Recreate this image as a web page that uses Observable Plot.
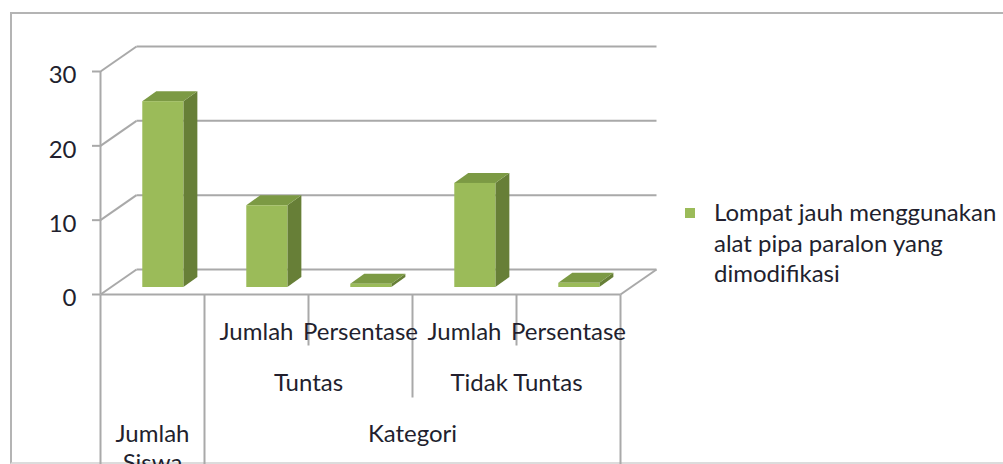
<!DOCTYPE html>
<html><head><meta charset="utf-8">
<script src="https://cdn.jsdelivr.net/npm/d3@7"></script>
<script src="https://cdn.jsdelivr.net/npm/@observablehq/plot@0.6"></script>
<style>
body{margin:0;background:#fff;font-family:Lato,sans-serif;}
#wrap{position:relative;width:1003px;height:464px;overflow:hidden;}
#border{position:absolute;left:10px;top:12px;width:1100px;height:448px;border:2px solid #b4b4b4;border-bottom-color:#dcdcdc;}
#chart{position:absolute;left:0;top:0;}
#legend{position:absolute;left:685px;top:197px;font-size:24px;line-height:30.5px;color:#221f2e;width:320px;}
#legend .sw{position:absolute;left:0;top:11px;width:10px;height:10px;background:#9BBB59;}
#legend .tx{position:absolute;left:29px;top:0;width:290px;}
</style></head><body>
<div id="wrap"><div id="border"></div><div id="chart"></div><div id="legend"></div></div>
<script>
// ---- data ----
const categories = ["Jumlah Siswa", "Tuntas Jumlah", "Tuntas Persentase", "Tidak Tuntas Jumlah", "Tidak Tuntas Persentase"];
const values = [25, 11, 0.44, 14, 0.56];
const seriesName = "Lompat jauh menggunakan alat pipa paralon yang dimodifikasi";
const yTicks = [0, 10, 20, 30];
const level1Labels = ["", "Jumlah", "Persentase", "Jumlah", "Persentase"];
const level2Labels = ["Tuntas", "Tidak Tuntas"];
const level2Spans = [[1, 3], [3, 5]];
const level3Labels = ["Jumlah\nSiswa", "Kategori"];
const level3Spans = [[0, 1], [1, 5]];
const separatorLevels = [3, 3, 1, 2, 1, 3];

// ---- layout ----
const W = 1003, H = 464;
const X0 = 100, X1 = 620, Y0 = 294, Y1 = 71;
const n = categories.length;
const kx = (X1 - X0) / n, ky = (Y0 - Y1) / 30;
const ux = p => p / kx, uy = p => p / ky;
const wall = {dx: ux(36), dy: uy(25)};
const mid = {dx: ux(9), dy: uy(7)};
const bd = {dx: ux(14), dy: uy(10)};
const barL = 0.32, barR = 0.715;
const rowDepth = {1: 51, 2: 103, 3: 190};
const grid = "#a9a9a9";
const cFront = "#9BBB59", cSide = "#677F37", cTop = "#7C9A44";

const bars = values.map((v, i) => ({i, v, x1: i + barL + mid.dx, x2: i + barR + mid.dx, y0: mid.dy, y1: v + mid.dy}));
const sidePts = bars.flatMap(b => [
  {i: b.i, x: b.x2, y1: b.y0, y2: b.y1},
  {i: b.i, x: b.x2 + bd.dx, y1: b.y0 + bd.dy, y2: b.y1 + bd.dy}
]);
const topPts = bars.flatMap(b => [
  {i: b.i, y: b.y1, x1: b.x1, x2: b.x2},
  {i: b.i, y: b.y1 + bd.dy, x1: b.x1 + bd.dx, x2: b.x2 + bd.dx}
]);
const seps = separatorLevels.map((lv, i) => ({x: i, lv}));
const txt = {fill: "#221f2e", fontSize: 24};

const chart = Plot.plot({
  width: W, height: H,
  marginLeft: X0, marginRight: W - X1, marginTop: Y1, marginBottom: H - Y0,
  x: {domain: [0, n], axis: null},
  y: {domain: [0, 30], axis: null},
  style: {fontFamily: "Lato, sans-serif", fontSize: "24px", background: "transparent", overflow: "visible", color: "#221f2e"},
  marks: [
    // back wall gridlines
    Plot.link(yTicks, {x1: wall.dx, x2: n + wall.dx, y1: d => d + wall.dy, y2: d => d + wall.dy, stroke: grid, strokeWidth: 2}),
    // side wall diagonals
    Plot.link(yTicks, {x1: 0, y1: d => d, x2: wall.dx, y2: d => d + wall.dy, stroke: grid, strokeWidth: 2}),
    // floor edges
    Plot.link([0], {x1: 0, x2: n, y1: 0, y2: 0, stroke: grid, strokeWidth: 2}),
    Plot.link([0], {x1: n, y1: 0, x2: n + wall.dx, y2: wall.dy, stroke: grid, strokeWidth: 2}),
    // axis line
    Plot.ruleX([0], {y1: 0, y2: 30, stroke: grid, strokeWidth: 2}),
    // bars
    Plot.areaY(sidePts, {x: "x", y1: "y1", y2: "y2", z: "i", fill: cSide}),
    Plot.areaX(topPts, {y: "y", x1: "x1", x2: "x2", z: "i", fill: cTop}),
    Plot.rect(bars, {x1: "x1", x2: "x2", y1: "y0", y2: "y1", fill: cFront}),
    // y axis ticks and labels
    Plot.axisY({ticks: yTicks, tickSize: 8, text: null, stroke: grid, strokeWidth: 2, label: null}),
    Plot.axisY({ticks: yTicks, tickSize: 0, tickPadding: 24, dy: 4, fill: "#221f2e", fontSize: 24, label: null}),
    // category separators
    Plot.link(seps, {x1: "x", x2: "x", y1: 0, y2: d => -uy(rowDepth[d.lv]), stroke: grid, strokeWidth: 2}),
    // category labels
    Plot.text(level1Labels, {x: (d, i) => i + 0.5, y: 0, dy: 38, text: d => d, ...txt}),
    Plot.text(level2Labels, {x: (d, i) => (level2Spans[i][0] + level2Spans[i][1]) / 2, y: 0, dy: 89, text: d => d, ...txt}),
    Plot.text(level3Labels, {x: (d, i) => (level3Spans[i][0] + level3Spans[i][1]) / 2, y: 0, dy: 127, lineAnchor: "top", lineHeight: 1.2, text: d => d, ...txt})
  ]
});
document.getElementById("chart").appendChild(chart);

const lg = document.getElementById("legend");
lg.innerHTML = `<div class="sw"></div><div class="tx"></div>`;
lg.querySelector(".tx").textContent = seriesName;
</script>
</body></html>
